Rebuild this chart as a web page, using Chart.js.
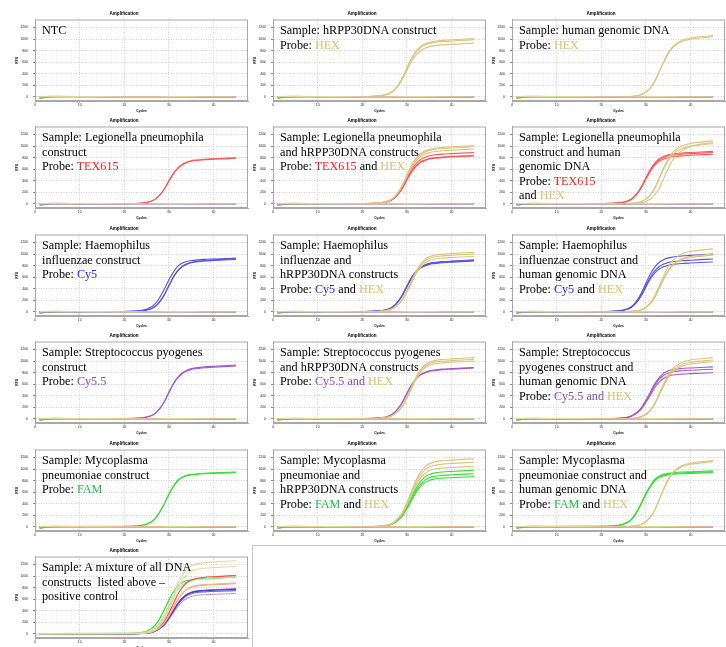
<!DOCTYPE html>
<html><head><meta charset="utf-8">
<script src="https://cdn.jsdelivr.net/npm/chart.js@4.4.1/dist/chart.umd.min.js"></script>
<style>
body{margin:0;background:#fff;width:726px;height:647px;overflow:hidden;position:relative}
canvas{position:absolute}
.note{position:absolute;font-family:"Liberation Serif","Times New Roman",serif;font-size:12.2px;line-height:14.6px;color:#000;white-space:nowrap}
.hex{color:#d9c06e}.tex{color:#ff2020}.cy5{color:#2a2ae0}.cy55{color:#9448c8}.fam{color:#22c04a}
#empty{position:absolute;left:252px;top:545px;width:474px;height:102px;border-left:1px solid #c8c8c8;border-top:1px solid #c8c8c8}
</style></head><body>
<div id="empty"></div>
<script>
// ---- axes ----
const xTickValues=[0,10,20,30,40];
const yTickValues=[0,200,400,600,800,1000,1200];
// ---- cycles at which values were read ----
const sigCycles=[1,20,24,26,27,28,29,30,31,32,33,34,35,36,38,40,45];
const baseCycles=[1,2,3,5,10,15,20,25,30,35,40,45];
// ---- flat (negative) channels ----
const baseGreen=[-30,-12,-2,2,4,3,3,4,5,4,3,2];
const baseRed=[2,6,9,10,8,6,5,5,6,5,4,3];
const baseYellow=[5,8,10,9,7,5,4,4,5,5,4,3];
const baseBlue=[0,3,6,8,6,4,3,3,3,2,2,2];
const basePurple=[-10,-3,2,4,5,4,4,5,4,3,3,3];
// ---- panel 2: hRPP30DNA / HEX ----
const p2Hex1=[5,8,20,61,111,202,333,505,667,788,869,914,944,960,978,988,1010];
const p2Hex2=[5,8,20,59,109,198,327,495,653,772,851,896,926,941,958,968,990];
const p2Hex3=[5,7,19,56,102,186,307,465,614,725,800,842,870,884,900,910,930];
// ---- panel 3: human genomic / HEX ----
const p3Hex1=[5,5,5,8,13,21,42,85,159,276,445,615,763,869,975,1018,1060];
const p3Hex2=[5,5,5,8,12,21,42,83,156,270,437,603,749,853,957,998,1040];
// ---- panel 4: Legionella / TEX615 ----
const p4Red1=[4,6,16,48,88,160,264,400,528,624,688,724,748,760,774,782,800];
const p4Red2=[4,6,16,47,87,158,261,395,521,616,679,715,739,751,765,773,790];
// ---- panel 5 ----
const p5Hex1=[5,8,20,61,111,202,333,505,667,788,869,914,944,960,978,988,1010];
const p5Hex2=[5,8,20,59,109,198,327,495,653,772,851,896,926,941,958,968,990];
const p5Hex3=[5,8,19,57,105,190,314,475,627,741,817,860,888,903,920,929,950];
const p5Red1=[4,7,18,53,98,178,294,445,587,694,765,805,832,846,862,870,890];
const p5Red2=[4,7,17,50,92,168,277,420,554,655,722,760,785,798,813,822,840];
const p5Red3=[4,7,17,50,91,166,274,415,548,647,714,751,776,789,803,812,830];
// ---- panel 6 ----
const p6Red1=[5,7,18,55,100,182,300,455,601,710,783,824,851,865,881,890,910];
const p6Red2=[4,7,18,53,98,178,294,445,587,694,765,805,832,846,862,870,890];
const p6Red3=[4,7,17,52,95,172,284,430,568,671,740,778,804,817,832,841,860];
const p6Hex1=[5,5,5,9,13,22,44,87,164,283,458,632,785,894,1003,1046,1090];
const p6Hex2=[5,5,5,8,12,21,42,83,156,270,437,603,749,853,957,998,1040];
const p6Hex3=[5,5,5,5,8,13,21,42,85,159,276,445,615,763,922,996,1060];
// ---- panel 7: Haemophilus / Cy5 ----
const p7Blue1=[5,9,28,84,149,260,400,558,688,791,846,874,888,897,910,916,930];
const p7Blue2=[5,7,18,55,101,184,304,460,607,718,791,833,860,874,891,900,920];
const p7Blue3=[5,7,18,55,100,182,300,455,601,710,783,824,851,865,881,890,910];
// ---- panel 8 ----
const p8Blue1=[5,7,18,54,99,180,297,450,594,702,774,815,842,855,871,880,900];
const p8Blue2=[4,7,18,53,98,178,294,445,587,694,765,805,832,846,862,870,890];
const p8Blue3=[4,7,18,53,97,176,290,440,581,686,757,796,823,836,852,861,880];
const p8Hex1=[5,6,12,36,72,134,227,371,536,700,824,906,953,979,999,1009,1030];
const p8Hex2=[5,6,12,35,70,130,220,360,520,680,800,880,925,950,970,980,1000];
const p8Hex3=[5,6,12,34,67,125,211,346,499,653,768,845,888,912,931,941,960];
// ---- panel 9 ----
const p9Blue1=[5,8,20,60,110,200,330,500,660,780,860,905,935,950,968,978,1000];
const p9Blue2=[5,7,18,55,101,183,302,458,604,714,787,828,856,869,886,895,915];
const p9Blue3=[4,7,17,52,95,173,285,433,571,675,744,783,809,822,837,846,865];
const p9Hex1=[5,5,5,9,13,22,44,87,164,283,458,632,785,894,1003,1046,1090];
const p9Hex2=[5,5,5,8,12,20,40,80,150,260,420,580,720,820,920,960,1000];
const p9Hex3=[5,5,5,8,12,20,39,78,147,255,412,568,706,804,902,941,980];
// ---- panel 10: Streptococcus / Cy5.5 ----
const p10Pur1=[5,7,19,56,102,186,307,465,614,725,800,842,870,884,900,910,930];
const p10Pur2=[5,7,18,55,101,183,302,458,604,714,787,828,856,869,886,895,915];
// ---- panel 11 ----
const p11Pur1=[4,7,18,53,98,178,294,445,587,694,765,805,832,846,862,870,890];
const p11Pur2=[4,7,18,53,97,176,290,440,581,686,757,796,823,836,852,861,880];
const p11Hex1=[5,6,13,37,74,138,233,382,551,721,848,933,981,1007,1028,1039,1060];
const p11Hex2=[5,6,12,36,72,134,227,371,536,700,824,906,953,979,999,1009,1030];
const p11Hex3=[5,6,12,35,70,130,220,360,520,680,800,880,925,950,970,980,1000];
// ---- panel 12 ----
const p12Pur1=[5,5,11,32,63,117,198,324,468,612,720,792,833,855,873,882,900];
const p12Pur2=[4,5,10,30,60,112,189,310,447,585,688,757,796,817,834,843,860];
const p12Pur3=[4,5,10,28,56,104,176,288,416,544,640,704,740,760,776,784,800];
const p12Hex1=[5,5,5,8,13,21,42,85,159,276,445,615,763,869,975,1018,1060];
const p12Hex2=[5,5,5,8,12,20,41,82,153,265,428,592,734,836,938,979,1020];
const p12Hex3=[5,5,5,8,12,20,40,79,149,257,416,574,713,812,911,950,990];
// ---- panel 13: Mycoplasma / FAM ----
const p13Grn1=[5,10,29,86,152,266,409,570,703,808,865,893,907,917,929,936,950];
const p13Grn2=[5,9,28,85,150,263,404,564,696,799,855,884,898,907,919,926,940];
// ---- panel 14 ----
const p14Grn1=[5,6,12,34,69,127,216,353,510,666,784,862,907,931,951,960,980];
const p14Grn2=[5,6,11,32,64,120,202,331,478,626,736,810,851,874,892,902,920];
const p14Grn3=[4,5,10,30,61,113,191,313,452,592,696,766,805,827,844,853,870];
const p14Hex1=[6,7,14,41,83,153,260,425,614,802,944,1038,1092,1121,1145,1156,1180];
const p14Hex2=[6,7,13,39,78,146,246,403,582,762,896,986,1036,1064,1086,1098,1120];
const p14Hex3=[5,6,13,37,74,137,231,378,546,714,840,924,971,998,1019,1029,1050];
// ---- panel 15 ----
const p15Grn1=[5,10,29,87,155,272,417,582,718,825,883,912,926,936,949,955,970];
const p15Grn2=[5,10,29,86,153,267,411,573,707,812,869,898,912,922,934,941,955];
const p15Grn3=[5,9,28,85,150,263,404,564,696,799,855,884,898,907,919,926,940];
const p15Hex1=[6,6,6,9,14,23,46,92,173,299,483,667,828,943,1058,1104,1150];
const p15Hex2=[6,6,6,9,14,23,45,90,170,294,475,655,814,927,1040,1085,1130];
// ---- panel 16: mixture ----
const mixGreen1=[5,10,29,88,157,274,421,588,725,833,892,921,936,946,958,965,980];
const mixGreen2=[5,8,20,59,108,197,325,493,650,768,847,891,921,936,953,963,985];
const mixHex1=[6,8,15,44,89,165,279,457,660,864,1016,1118,1175,1207,1232,1245,1270];
const mixHex2=[6,7,14,41,82,152,257,421,608,796,936,1030,1082,1112,1135,1147,1170];
const mixHex3=[4,5,11,31,62,114,194,317,458,598,704,774,814,836,854,862,880];
const mixRed1=[5,6,12,35,71,131,222,364,525,687,808,889,934,960,980,990,1010];
const mixRed2=[4,5,10,30,61,113,191,313,452,592,696,766,805,827,844,853,870];
const mixBlue1=[4,5,9,27,54,100,169,277,400,524,616,678,712,732,747,755,770];
const mixBlue2=[4,5,9,26,53,98,165,270,390,510,600,660,694,713,728,735,750];
const mixPur1=[4,5,9,27,55,101,172,281,406,530,624,686,722,741,757,764,780];
const mixPur2=[4,4,8,25,49,91,154,252,364,476,560,616,648,665,679,686,700];

const cHex='#dcc47e', cRed='#ff5555', cBlue='#5555e0', cPur='#a458c8', cGrn='#35e035';
const baseSets=[[baseYellow,'#e4d49a'],[baseRed,'#f07a7a'],[baseBlue,'#7a7ad8'],[basePurple,'#c48ad8'],[baseGreen,'#4cd24c']];

const H='<span class="hex">HEX</span>', T='<span class="tex">TEX615</span>', C5='<span class="cy5">Cy5</span>', F='<span class="fam">FAM</span>';
const panels=[
 {note:'NTC',sets:[]},
 {note:'Sample: hRPP30DNA construct<br>Probe: '+H,sets:[[p2Hex1,cHex],[p2Hex2,cHex],[p2Hex3,cHex]]},
 {note:'Sample: human genomic DNA<br>Probe: '+H,sets:[[p3Hex1,cHex],[p3Hex2,cHex]]},
 {note:'Sample: Legionella pneumophila<br>construct<br>Probe: '+T,sets:[[p4Red1,cRed],[p4Red2,cRed]]},
 {note:'Sample: Legionella pneumophila<br>and hRPP30DNA constructs<br>Probe: '+T+' and '+H,sets:[[p5Hex1,cHex],[p5Hex2,cHex],[p5Hex3,cHex],[p5Red1,cRed],[p5Red2,cRed],[p5Red3,cRed]]},
 {note:'Sample: Legionella pneumophila<br>construct and human<br>genomic DNA<br>Probe: '+T+'<br>and '+H,sets:[[p6Hex1,cHex],[p6Hex2,cHex],[p6Hex3,cHex],[p6Red1,cRed],[p6Red2,cRed],[p6Red3,cRed]]},
 {note:'Sample: Haemophilus<br>influenzae construct<br>Probe: '+C5,sets:[[p7Blue1,cBlue],[p7Blue2,cBlue],[p7Blue3,cBlue]]},
 {note:'Sample: Haemophilus<br>influenzae and<br>hRPP30DNA constructs<br>Probe: '+C5+' and '+H,sets:[[p8Hex1,cHex],[p8Hex2,cHex],[p8Hex3,cHex],[p8Blue1,cBlue],[p8Blue2,cBlue],[p8Blue3,cBlue]]},
 {note:'Sample: Haemophilus<br>influenzae construct and<br>human genomic DNA<br>Probe: '+C5+' and '+H,sets:[[p9Hex1,cHex],[p9Hex2,cHex],[p9Hex3,cHex],[p9Blue1,cBlue],[p9Blue2,cBlue],[p9Blue3,cBlue]]},
 {note:'Sample: Streptococcus pyogenes<br>construct<br>Probe: <span class="cy55">Cy5.5</span>',sets:[[p10Pur1,cPur],[p10Pur2,cPur]]},
 {note:'Sample: Streptococcus pyogenes<br>and hRPP30DNA constructs<br>Probe: <span class="cy55">Cy5.5 and</span> '+H,sets:[[p11Hex1,cHex],[p11Hex2,cHex],[p11Hex3,cHex],[p11Pur1,cPur],[p11Pur2,cPur]]},
 {note:'Sample: Streptococcus<br>pyogenes construct and<br>human genomic DNA<br>Probe: <span class="cy55">Cy5.5 and</span> '+H,sets:[[p12Hex1,cHex],[p12Hex2,cHex],[p12Hex3,cHex],[p12Pur1,cPur],[p12Pur2,cPur],[p12Pur3,cPur]]},
 {note:'Sample: Mycoplasma<br>pneumoniae construct<br>Probe: '+F,sets:[[p13Grn1,cGrn],[p13Grn2,cGrn]]},
 {note:'Sample: Mycoplasma<br>pneumoniae and<br>hRPP30DNA constructs<br>Probe: '+F+' and '+H,sets:[[p14Hex1,cHex],[p14Hex2,cHex],[p14Hex3,cHex],[p14Grn1,cGrn],[p14Grn2,cGrn],[p14Grn3,cGrn]]},
 {note:'Sample: Mycoplasma<br>pneumoniae construct and<br>human genomic DNA<br>Probe: '+F+' and '+H,sets:[[p15Hex1,cHex],[p15Hex2,cHex],[p15Grn1,cGrn],[p15Grn2,cGrn],[p15Grn3,cGrn]]},
 {note:'Sample: A mixture of all DNA<br>constructs&nbsp; listed above –<br>positive control',sets:[[mixHex1,'#e8d49a'],[mixHex2,'#ecd8a4'],[mixHex3,'#e6c07a'],[mixRed1,'#ff4040'],[mixRed2,'#ff9090'],[mixGreen2,'#9af09a'],[mixGreen1,'#20e020'],[mixBlue1,'#4040d0'],[mixBlue2,'#6a6ae0'],[mixPur1,'#8a40c0'],[mixPur2,'#c890e0']]}
];

const frame={id:'frame',beforeDatasetsDraw(ch){const a=ch.chartArea,x=ch.ctx;x.save();x.strokeStyle='#a8a8a8';x.lineWidth=1;x.strokeRect(a.left+0.5,a.top+0.5,a.right-a.left-1,a.bottom-a.top-1);x.restore();}};

function mk(xs,vals,col){return {data:xs.map((x,i)=>({x:x,y:vals[i]})),borderColor:col,borderWidth:1.1,pointRadius:0,fill:false,cubicInterpolationMode:'monotone'};}

const colX=[0,238,477];
const tickFont={family:'Liberation Sans',size:3.4};
const plain=v=>String(v);
const notes=[];
panels.forEach((p,i)=>{
  const r=Math.floor(i/3), c=i%3;
  const ox=colX[c], oy=Math.round(r*107.4);
  const cv=document.createElement('canvas');
  cv.width=250; cv.height=116; cv.style.left=ox+'px'; cv.style.top=oy+'px';
  document.body.appendChild(cv);
  const n=document.createElement('div'); n.className='note';
  n.style.left=(ox+42)+'px'; n.style.top=(oy+23)+'px'; n.innerHTML=p.note; notes.push(n);
  const ds=[];
  if(i<15) baseSets.forEach(b=>ds.push(mk(baseCycles,b[0],b[1])));
  p.sets.forEach(s=>ds.push(mk(sigCycles,s[0],s[1])));
  new Chart(cv,{type:'line',data:{datasets:ds},
    options:{animation:false,responsive:false,devicePixelRatio:1,
      layout:{padding:{left:0,right:2,top:0,bottom:0}},
      plugins:{legend:{display:false},tooltip:{enabled:false},
        title:{display:true,text:'Amplification',color:'#000',font:{family:'Liberation Sans',size:4.6,weight:'bold'},padding:{top:11,bottom:3}}},
      scales:{
        x:{type:'linear',min:0,max:47.7,
          afterBuildTicks:s=>{s.ticks=xTickValues.map(v=>({value:v}));},
          ticks:{font:tickFont,color:'#222',padding:1,maxRotation:0,autoSkip:false,callback:plain},
          title:{display:true,text:'Cycles',color:'#000',font:{family:'Liberation Sans',size:3.3,weight:'bold'},padding:{top:0,bottom:3.3}},
          grid:{color:'#cfcfcf',tickLength:1.5,tickColor:'#888'},border:{color:'#a8a8a8',dash:[1,1.5]},
          afterFit:s=>{s.height=15;}},
        y:{type:'linear',min:-70,max:1339,
          afterBuildTicks:s=>{s.ticks=yTickValues.map(v=>({value:v}));},
          ticks:{font:tickFont,color:'#222',padding:5,autoSkip:false,callback:plain},
          title:{display:true,text:'RFU',color:'#000',font:{family:'Liberation Sans',size:3.3,weight:'bold'},padding:{top:15,bottom:0}},
          grid:{color:'#cfcfcf',tickLength:2,tickColor:'#888'},border:{color:'#a8a8a8',dash:[1,1.5]},
          afterFit:s=>{s.width=35;}}
      }},
    plugins:[frame]});
});
notes.forEach(n=>document.body.appendChild(n));
</script></body></html>
